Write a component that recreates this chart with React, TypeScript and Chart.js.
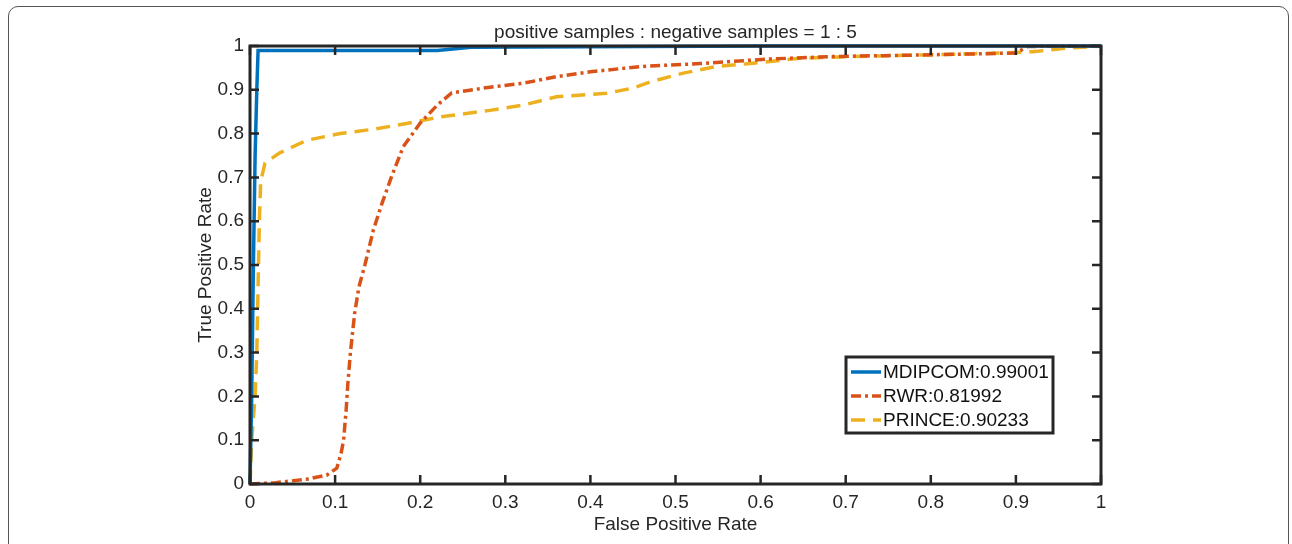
import React, { useEffect, useRef } from "react";
import { Chart, registerables } from "chart.js";

Chart.register(...registerables);

const TITLE = "positive samples : negative samples = 1 : 5";
const X_LABEL = "False Positive Rate";
const Y_LABEL = "True Positive Rate";
const SERIES_NAMES = ["MDIPCOM:0.99001", "RWR:0.81992", "PRINCE:0.90233"];
const SERIES_COLORS = ["#0072BD", "#D95319", "#EDB120"];

const mdipcomFpr = [0, 0.002, 0.004, 0.006, 0.008, 0.0095, 0.22, 0.26, 0.6, 1];
const mdipcomTpr = [0, 0.2, 0.5, 0.75, 0.9, 0.99, 0.99, 0.997, 1, 1];

const rwrFpr = [0, 0.03, 0.067, 0.09, 0.102, 0.107, 0.11, 0.113, 0.115, 0.118, 0.123, 0.128, 0.135, 0.145, 0.155, 0.166, 0.18, 0.2, 0.22, 0.237, 0.282, 0.321, 0.36, 0.4, 0.458, 0.529, 0.607, 0.685, 0.803, 0.9, 0.914, 1];
const rwrTpr = [0, 0.003, 0.011, 0.02, 0.036, 0.07, 0.1, 0.17, 0.23, 0.3, 0.39, 0.45, 0.5, 0.58, 0.64, 0.7, 0.77, 0.824, 0.865, 0.893, 0.906, 0.915, 0.93, 0.941, 0.953, 0.96, 0.97, 0.976, 0.98, 0.984, 0.999, 1];

const princeFpr = [0, 0.002, 0.006, 0.008, 0.009, 0.01, 0.011, 0.0125, 0.0137, 0.0176, 0.035, 0.067, 0.106, 0.145, 0.184, 0.223, 0.282, 0.321, 0.36, 0.419, 0.45, 0.47, 0.509, 0.548, 0.588, 0.646, 0.705, 0.803, 0.881, 0.92, 0.96, 1];
const princeTpr = [0, 0.1, 0.2, 0.3, 0.4, 0.5, 0.6, 0.69, 0.7, 0.733, 0.756, 0.785, 0.8, 0.81, 0.823, 0.838, 0.853, 0.865, 0.884, 0.892, 0.904, 0.918, 0.938, 0.953, 0.96, 0.972, 0.976, 0.98, 0.984, 0.987, 0.995, 1];

const FONT = "'Liberation Sans', Arial, Helvetica, sans-serif";
const INK = "#262626";

const toPoints = (xs: number[], ys: number[]) => xs.map((x, i) => ({ x, y: ys[i] }));
const fmtTick = (v: any) => String(Number(Number(v).toFixed(2)));

const matlabAxesPlugin = {
  id: "matlabAxes",
  afterDatasetsDraw(chart: any) {
    const { ctx, chartArea: a, scales } = chart;
    const xs = scales.x;
    const ys = scales.y;
    const tl = 9;
    ctx.save();
    ctx.strokeStyle = INK;
    ctx.lineWidth = 2.5;
    ctx.beginPath();
    xs.ticks.forEach((t: any) => {
      const px = xs.getPixelForValue(t.value);
      ctx.moveTo(px, a.bottom);
      ctx.lineTo(px, a.bottom - tl);
      ctx.moveTo(px, a.top);
      ctx.lineTo(px, a.top + tl);
    });
    ys.ticks.forEach((t: any) => {
      const py = ys.getPixelForValue(t.value);
      ctx.moveTo(a.left, py);
      ctx.lineTo(a.left + tl, py);
      ctx.moveTo(a.right, py);
      ctx.lineTo(a.right - tl, py);
    });
    ctx.stroke();
    ctx.lineWidth = 3;
    ctx.strokeRect(a.left, a.top, a.right - a.left, a.bottom - a.top);
    ctx.restore();
  },
  afterDraw(chart: any) {
    const { ctx, chartArea: a } = chart;
    ctx.save();
    ctx.fillStyle = INK;
    ctx.font = `19px ${FONT}`;
    ctx.textAlign = "center";
    ctx.textBaseline = "middle";
    ctx.fillText(TITLE, (a.left + a.right) / 2, 33);
    const bx = 846, by = 357, bw = 207, bh = 76;
    ctx.fillStyle = "#ffffff";
    ctx.fillRect(bx, by, bw, bh);
    ctx.strokeStyle = INK;
    ctx.lineWidth = 3;
    ctx.strokeRect(bx, by, bw, bh);
    const rows = [372, 396, 420];
    chart.data.datasets.forEach((ds: any, i: number) => {
      const y = rows[i];
      ctx.beginPath();
      ctx.strokeStyle = ds.borderColor;
      ctx.lineWidth = ds.borderWidth;
      ctx.setLineDash(ds.borderDash || []);
      ctx.lineDashOffset = 0;
      ctx.moveTo(851, y);
      ctx.lineTo(881, y);
      ctx.stroke();
      ctx.setLineDash([]);
      ctx.fillStyle = "#111111";
      ctx.font = `19px ${FONT}`;
      ctx.textAlign = "left";
      ctx.textBaseline = "middle";
      ctx.fillText(ds.label, 883, y + 1);
    });
    ctx.restore();
  },
};

export default function App() {
  const ref = useRef<HTMLCanvasElement>(null);
  useEffect(() => {
    if (!ref.current) return;
    const chart = new Chart(ref.current, {
      type: "line",
      data: {
        datasets: [
          {
            label: SERIES_NAMES[0],
            data: toPoints(mdipcomFpr, mdipcomTpr),
            borderColor: SERIES_COLORS[0],
            borderWidth: 3.5,
            pointRadius: 0,
            tension: 0,
            clip: 4,
          },
          {
            label: SERIES_NAMES[1],
            data: toPoints(rwrFpr, rwrTpr),
            borderColor: SERIES_COLORS[1],
            borderWidth: 3.5,
            borderDash: [10, 4, 3, 4],
            pointRadius: 0,
            tension: 0,
            clip: 4,
          },
          {
            label: SERIES_NAMES[2],
            data: toPoints(princeFpr, princeTpr),
            borderColor: SERIES_COLORS[2],
            borderWidth: 3.5,
            borderDash: [14, 8],
            pointRadius: 0,
            tension: 0,
            clip: 4,
          },
        ],
      },
      options: {
        responsive: false,
        animation: false,
        devicePixelRatio: 1,
        layout: { padding: { top: 46, right: 191, bottom: 0, left: 0 } },
        plugins: {
          legend: { display: false },
          tooltip: { enabled: false },
          title: { display: false },
        },
        scales: {
          x: {
            type: "linear",
            min: 0,
            max: 1,
            grid: { display: false, drawTicks: false },
            border: { display: false },
            ticks: {
              stepSize: 0.1,
              padding: 7,
              color: INK,
              font: { family: FONT, size: 19 },
              maxRotation: 0,
              callback: fmtTick,
            },
            title: {
              display: true,
              text: X_LABEL,
              color: INK,
              font: { family: FONT, size: 19 },
              padding: { top: 0, bottom: 8 },
            },
            afterFit(s: any) {
              s.height = 60;
            },
          },
          y: {
            type: "linear",
            min: 0,
            max: 1,
            grid: { display: false, drawTicks: false },
            border: { display: false },
            ticks: {
              stepSize: 0.1,
              padding: 6,
              color: INK,
              font: { family: FONT, size: 19 },
              callback: fmtTick,
            },
            title: {
              display: true,
              text: Y_LABEL,
              color: INK,
              font: { family: FONT, size: 19 },
              padding: { top: 194, bottom: 0 },
            },
            afterFit(s: any) {
              s.width = 250;
            },
          },
        },
      },
      plugins: [matlabAxesPlugin],
    } as any);
    return () => chart.destroy();
  }, []);

  return (
    <>
      <div
        style={{
          position: "fixed",
          left: 8,
          top: 6,
          width: 1281,
          height: 640,
          border: "1.5px solid #555",
          borderRadius: 10,
          boxSizing: "border-box",
        }}
      />
      <canvas
        ref={ref}
        width={1292}
        height={544}
        style={{ position: "fixed", left: 0, top: 0, width: 1292, height: 544 }}
      />
    </>
  );
}
